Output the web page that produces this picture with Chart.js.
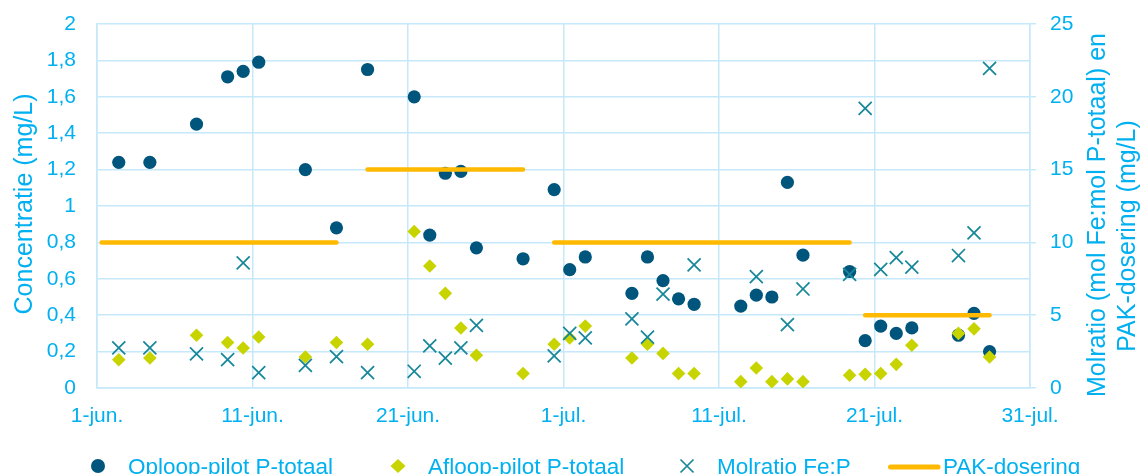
<!DOCTYPE html>
<html>
<head>
<meta charset="utf-8">
<script src="https://cdn.jsdelivr.net/npm/chart.js@4.4.1/dist/chart.umd.min.js"></script>
<style>
  html, body { margin: 0; padding: 0; overflow: hidden; background: #ffffff; }
  canvas { display: block; }
</style>
</head>
<body>
<canvas id="chart" width="1142" height="474"></canvas>
<script>
// X axis: days since 1 June, one labelled tick every 10 days
const xTickLabels = ['1-jun.', '11-jun.', '21-jun.', '1-jul.', '11-jul.', '21-jul.', '31-jul.'];

// Sampling moments (days since 1 June)
const sampleDays = [1.4, 3.4, 6.4, 8.4, 9.4, 10.4, 13.4, 15.4, 17.4, 20.4, 21.4, 22.4, 23.4, 24.4,
  27.4, 29.4, 30.4, 31.4, 34.4, 35.4, 36.4, 37.4, 38.4, 41.4, 42.4, 43.4, 44.4, 45.4,
  48.4, 49.4, 50.4, 51.4, 52.4, 55.4, 56.4, 57.4];

// P-totaal influent of the pilot (mg/L)
const oploopP = [1.24, 1.24, 1.45, 1.71, 1.74, 1.79, 1.20, 0.88, 1.75, 1.60, 0.84, 1.18, 1.19, 0.77,
  0.71, 1.09, 0.65, 0.72, 0.52, 0.72, 0.59, 0.49, 0.46, 0.45, 0.51, 0.50, 1.13, 0.73,
  0.64, 0.26, 0.34, 0.30, 0.33, 0.29, 0.41, 0.20];

// P-totaal effluent of the pilot (mg/L)
const afloopP = [0.155, 0.165, 0.29, 0.25, 0.22, 0.28, 0.17, 0.25, 0.24, 0.86, 0.67, 0.52, 0.33, 0.18,
  0.08, 0.24, 0.275, 0.34, 0.165, 0.24, 0.19, 0.08, 0.08, 0.035, 0.11, 0.035, 0.05, 0.035,
  0.07, 0.075, 0.08, 0.13, 0.235, 0.30, 0.325, 0.17];

// Molar ratio Fe:P (right axis); null = not determined
const molratioFeP = [2.75, 2.75, 2.35, 1.95, 8.6, 1.05, 1.55, 2.15, 1.05, 1.15, 2.9, 2.05, 2.75, 4.3,
  null, 2.2, 3.75, 3.45, 4.75, 3.5, 6.45, null, 8.45, null, 7.65, null, 4.35, 6.8,
  7.8, 19.2, 8.15, 8.95, 8.3, 9.1, 10.65, 21.95];

// PAK dosing periods (days since 1 June) and dose (mg/L, right axis)
const pakStart = [0.3, 17.4, 29.4, 49.4];
const pakEnd = [15.4, 27.4, 48.4, 57.4];
const pakDose = [10, 15, 10, 5];

const seriesNames = ['Oploop-pilot P-totaal', 'Afloop-pilot P-totaal', 'Molratio Fe:P', 'PAK-dosering'];
const leftTitle = 'Concentratie (mg/L)';
const rightTitle = ['Molratio (mol Fe:mol P-totaal) en', 'PAK-dosering (mg/L)'];

const TEXT = '#00b0f0';
const GRID = 'rgb(197, 232, 250)';
const C_OPLOOP = '#00557c';
const C_AFLOOP = '#c8d400';
const C_MOL = '#17879a';
const C_PAK = '#ffb900';
const FONT = '"Liberation Sans", Arial, sans-serif';

const points = (ys) => sampleDays.map((d, i) => ({ x: d, y: ys[i] }));

const pakPoints = [];
pakStart.forEach((s, i) => {
  pakPoints.push({ x: s, y: pakDose[i] });
  pakPoints.push({ x: pakEnd[i], y: pakDose[i] });
  pakPoints.push({ x: pakEnd[i], y: null });
});

// Fixed axis sizes; the plot area is set by the layout padding alone
const fitVertical = (w) => (s) => { s.width = w; s.paddingTop = 0; s.paddingBottom = 0; };

// Axis titles (right one reads bottom-to-top) and the legend row
const decor = {
  id: 'decor',
  afterDraw(chart) {
    const ctx = chart.ctx;
    const a = chart.chartArea;
    const midY = (a.top + a.bottom) / 2;
    ctx.save();
    ctx.fillStyle = TEXT;
    ctx.font = '25px ' + FONT;
    ctx.textAlign = 'center';
    ctx.textBaseline = 'alphabetic';

    ctx.save();
    ctx.translate(32, midY - 2);
    ctx.rotate(-Math.PI / 2);
    ctx.fillText(leftTitle, 0, 0);
    ctx.restore();

    ctx.save();
    ctx.translate(1105, midY + 9);
    ctx.rotate(-Math.PI / 2);
    ctx.fillText(rightTitle[0], 0, 0);
    ctx.restore();

    ctx.save();
    ctx.translate(1135, midY + 30);
    ctx.rotate(-Math.PI / 2);
    ctx.fillText(rightTitle[1], 0, 0);
    ctx.restore();

    // legend
    const ly = 466;
    ctx.font = '22.5px ' + FONT;
    ctx.textAlign = 'left';
    const items = [
      { kind: 'circle', left: 91 },
      { kind: 'diamond', left: 391 },
      { kind: 'cross', left: 680 },
      { kind: 'line', left: 888 }
    ];
    items.forEach((it, i) => {
      let textX;
      if (it.kind === 'circle') {
        ctx.fillStyle = C_OPLOOP;
        ctx.beginPath();
        ctx.arc(it.left + 7, ly, 7, 0, Math.PI * 2);
        ctx.fill();
        textX = it.left + 37;
      } else if (it.kind === 'diamond') {
        ctx.fillStyle = C_AFLOOP;
        const cx = it.left + 7;
        ctx.beginPath();
        ctx.moveTo(cx - 7.5, ly); ctx.lineTo(cx, ly - 7); ctx.lineTo(cx + 7.5, ly); ctx.lineTo(cx, ly + 7);
        ctx.closePath();
        ctx.fill();
        textX = it.left + 37;
      } else if (it.kind === 'cross') {
        ctx.strokeStyle = C_MOL;
        ctx.lineWidth = 1.75;
        const cx = it.left + 7;
        ctx.beginPath();
        ctx.moveTo(cx - 6.5, ly - 6.5); ctx.lineTo(cx + 6.5, ly + 6.5);
        ctx.moveTo(cx + 6.5, ly - 6.5); ctx.lineTo(cx - 6.5, ly + 6.5);
        ctx.stroke();
        textX = it.left + 37;
      } else {
        ctx.strokeStyle = C_PAK;
        ctx.lineWidth = 5;
        ctx.lineCap = 'round';
        ctx.beginPath();
        ctx.moveTo(it.left + 2.5, ly + 1); ctx.lineTo(it.left + 50, ly + 1);
        ctx.stroke();
        textX = it.left + 55;
      }
      ctx.fillStyle = TEXT;
      ctx.fillText(seriesNames[i], textX, ly + 7.5);
    });
    ctx.restore();
  }
};

new Chart(document.getElementById('chart'), {
  type: 'scatter',
  data: {
    datasets: [
      {
        label: seriesNames[3], type: 'line', data: pakPoints, yAxisID: 'y1', order: 1,
        borderColor: C_PAK, borderWidth: 4.5, borderCapStyle: 'round', pointRadius: 0,
        spanGaps: false, fill: false, tension: 0
      },
      {
        label: seriesNames[2], data: points(molratioFeP), yAxisID: 'y1', order: 2,
        pointStyle: 'crossRot', pointRadius: 9.2, borderColor: C_MOL, pointBorderWidth: 1.75,
        backgroundColor: C_MOL
      },
      {
        label: seriesNames[1], data: points(afloopP), yAxisID: 'y', order: 3,
        pointStyle: 'rectRot', pointRadius: 6.8, backgroundColor: C_AFLOOP, borderColor: C_AFLOOP,
        pointBorderWidth: 0
      },
      {
        label: seriesNames[0], data: points(oploopP), yAxisID: 'y', order: 4,
        pointStyle: 'circle', pointRadius: 6.6, backgroundColor: C_OPLOOP, borderColor: C_OPLOOP,
        pointBorderWidth: 0
      }
    ]
  },
  options: {
    responsive: false,
    animation: false,
    events: [],
    layout: { padding: { top: 24, left: 0, right: 0, bottom: 0 } },
    plugins: { legend: { display: false }, tooltip: { enabled: false } },
    scales: {
      x: {
        type: 'linear', min: 0, max: 60,
        afterFit: (s) => { s.height = 86; s.paddingLeft = 0; s.paddingRight = 0; },
        grid: { color: GRID, lineWidth: 1.5, drawTicks: false },
        border: { color: GRID, width: 1.5 },
        ticks: {
          stepSize: 10, padding: 16, color: TEXT, font: { family: FONT, size: 21 },
          maxRotation: 0, autoSkip: false,
          callback: (v) => xTickLabels[Math.round(v / 10)]
        }
      },
      y: {
        position: 'left', min: 0, max: 2,
        afterFit: fitVertical(97),
        grid: { color: GRID, lineWidth: 1.5, drawTicks: false },
        border: { color: GRID, width: 1.5 },
        ticks: {
          stepSize: 0.2, padding: 21, color: TEXT, font: { family: FONT, size: 21 },
          callback: (v) => String(Math.round(v * 10) / 10).replace('.', ',')
        }
      },
      y1: {
        position: 'right', min: 0, max: 25,
        afterFit: fitVertical(112),
        grid: { color: GRID, lineWidth: 1.5, drawOnChartArea: false, drawTicks: true, tickLength: 6 },
        border: { color: GRID, width: 1.5 },
        ticks: { stepSize: 5, padding: 14, color: TEXT, font: { family: FONT, size: 21 } }
      }
    }
  },
  plugins: [decor]
});
</script>
</body>
</html>
